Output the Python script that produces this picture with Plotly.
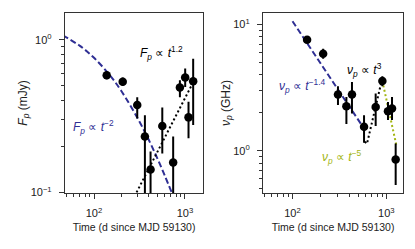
import plotly.graph_objects as go
from plotly.subplots import make_subplots

# ---- Left panel: peak flux density F_p (mJy) ----
t_F = [138, 207, 299, 363, 419, 564, 743, 881, 1007, 1096, 1233]
F_p = [0.585, 0.53, 0.373, 0.232, 0.141, 0.272, 0.157, 0.486, 0.565, 0.31, 0.535]
F_hi = [0.62, 0.565, 0.42, 0.32, 0.185, 0.36, 0.232, 0.543, 0.647, 0.392, 0.75]
F_lo = [0.55, 0.50, 0.305, 0.05, 0.05, 0.18, 0.05, 0.42, 0.49, 0.226, 0.276]

# fit curves
fit_F_dec_t = [45, 70, 100, 150, 200, 300, 400, 500, 600, 715]
fit_F_dec_v = [1.071, 0.911, 0.761, 0.583, 0.461, 0.308, 0.221, 0.166, 0.129, 0.100]
fit_F_rise_t = [294, 1186]
fit_F_rise_v = [0.100, 0.503]

# ---- Right panel: peak frequency nu_p (GHz) ----
t_nu = [143, 212, 305, 375, 430, 578, 769, 906, 1040, 1148, 1256]
nu_p = [7.57, 5.87, 2.79, 2.25, 2.79, 1.55, 2.22, 3.57, 2.06, 2.16, 0.855]
nu_hi = [8.0, 6.43, 3.24, 2.67, 3.51, 1.91, 2.84, 3.89, 2.44, 2.67, 1.14]
nu_lo = [7.1, 5.36, 2.30, 1.63, 1.97, 1.16, 1.57, 3.24, 1.75, 1.75, 0.535]

fit_nu_dec_t = [100, 578]
fit_nu_dec_v = [10.6, 1.50]
fit_nu_rise_t = [588, 622, 885]
fit_nu_rise_v = [1.18, 1.14, 3.51]
fit_nu_fall_t = [906, 1276]
fit_nu_fall_v = [3.57, 1.11]

BLUE = "#2f2f94"
GREEN = "#a3b512"
AXC = "#333333"
FONT = "Liberation Sans, Arial, sans-serif"

fig = make_subplots(rows=1, cols=2, horizontal_spacing=0.1774)

def err(y, hi, lo):
    return [h - v for v, h in zip(y, hi)], [v - l for v, l in zip(y, lo)]

# left
fig.add_trace(go.Scatter(x=fit_F_dec_t, y=fit_F_dec_v, mode="lines", line_shape="spline",
                         line=dict(color=BLUE, width=2, dash="6px,3px")), 1, 1)
fig.add_trace(go.Scatter(x=fit_F_rise_t, y=fit_F_rise_v, mode="lines",
                         line=dict(color="black", width=2, dash="2px,2.5px")), 1, 1)
up, dn = err(F_p, F_hi, F_lo)
fig.add_trace(go.Scatter(x=t_F, y=F_p, mode="markers",
                         marker=dict(color="black", size=8.5),
                         error_y=dict(type="data", array=up, arrayminus=dn, color="black",
                                      thickness=2, width=0)), 1, 1)
# right
fig.add_trace(go.Scatter(x=fit_nu_dec_t, y=fit_nu_dec_v, mode="lines",
                         line=dict(color=BLUE, width=2, dash="6px,3px")), 1, 2)
fig.add_trace(go.Scatter(x=fit_nu_rise_t, y=fit_nu_rise_v, mode="lines",
                         line=dict(color="black", width=2, dash="2px,2.5px")), 1, 2)
fig.add_trace(go.Scatter(x=fit_nu_fall_t, y=fit_nu_fall_v, mode="lines",
                         line=dict(color=GREEN, width=2, dash="2px,2.5px")), 1, 2)
up, dn = err(nu_p, nu_hi, nu_lo)
fig.add_trace(go.Scatter(x=t_nu, y=nu_p, mode="markers",
                         marker=dict(color="black", size=8.5),
                         error_y=dict(type="data", array=up, arrayminus=dn, color="black",
                                      thickness=2, width=0)), 1, 2)

xminor = [50, 60, 70, 80, 90, 200, 300, 400, 500, 600, 700, 800, 900]
common = dict(type="log", showline=True, mirror=True, linecolor=AXC, linewidth=1.3,
              ticks="outside", ticklen=5, tickwidth=1, tickcolor=AXC, showgrid=False,
              zeroline=False, tickfont=dict(size=11, color="#222"), automargin=False,
              minor=dict(ticks="outside", ticklen=3, tickwidth=1, tickcolor=AXC, showgrid=False))

fig.update_xaxes(**common, tickvals=[100, 1000], ticktext=["10<sup>2</sup>", "10<sup>3</sup>"],
                 ticklabelstandoff=5,
                 title=dict(text="Time (d since MJD 59130)", font=dict(size=10.5, color="#222"), standoff=5))
fig.update_xaxes(range=[1.681, 3.201], row=1, col=1)
fig.update_xaxes(range=[1.687, 3.177], row=1, col=2)
fig.update_xaxes(minor_tickvals=xminor)

fig.update_yaxes(**common, ticklabelstandoff=5)
fig.update_yaxes(range=[-1.004, 0.175], tickvals=[0.1, 1], ticktext=["10<sup>−1</sup>", "10<sup>0</sup>"],
                 minor_tickvals=[0.2, 0.3, 0.4, 0.5, 0.6, 0.7, 0.8, 0.9],
                 title=dict(text="<i>F</i><sub><i>p</i></sub> (mJy)", font=dict(size=12, color="#222"), standoff=0),
                 row=1, col=1)
fig.update_yaxes(range=[-0.334, 1.091], tickvals=[1, 10], ticktext=["10<sup>0</sup>", "10<sup>1</sup>"],
                 minor_tickvals=[0.5, 0.6, 0.7, 0.8, 0.9, 2, 3, 4, 5, 6, 7, 8, 9],
                 title=dict(text="<i>ν</i><sub><i>p</i></sub> (GHz)", font=dict(size=12, color="#222"), standoff=0),
                 row=1, col=2)

def ann(text, x, y, color, xref, yref):
    fig.add_annotation(text=text, x=x, y=y, xref=xref, yref=yref, showarrow=False,
                       font=dict(size=12, color=color, family=FONT))

ann("<i>F</i><sub><i>p</i></sub> ∝ <i>t</i><sup>1.2</sup>", 2.742, -0.089, "black", "x", "y")
ann("<i>F</i><sub><i>p</i></sub> ∝ <i>t</i><sup>−2</sup>", 1.995, -0.572, BLUE, "x", "y")
ann("<i>ν</i><sub><i>p</i></sub> ∝ <i>t</i><sup>3</sup>", 2.769, 0.637, "black", "x2", "y2")
ann("<i>ν</i><sub><i>p</i></sub> ∝ <i>t</i><sup>−1.4</sup>", 2.104, 0.511, BLUE, "x2", "y2")
ann("<i>ν</i><sub><i>p</i></sub> ∝ <i>t</i><sup>−5</sup>", 2.53, -0.05, GREEN, "x2", "y2")

fig.update_layout(width=415, height=249, showlegend=False,
                  margin=dict(l=65, r=11.7, t=12.5, b=55.7),
                  paper_bgcolor="white", plot_bgcolor="white",
                  font=dict(family=FONT, size=10.5, color="#222"))
fig.update_xaxes(domain=[0, 0.4088], row=1, col=1)
fig.update_xaxes(domain=[0.5862, 1], row=1, col=2)

fig.write_html("out.html", config={"displayModeBar": False},
               post_script="document.body.style.margin='0';document.body.style.padding='0';")
